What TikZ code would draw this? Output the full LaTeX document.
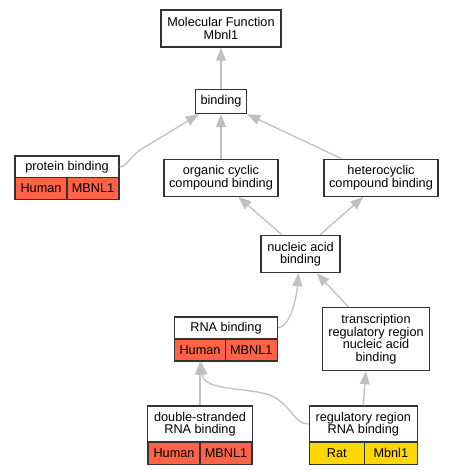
\documentclass[tikz,border=0pt]{standalone}
\usepackage{fontspec}
\setmainfont{Liberation Sans}
\usetikzlibrary{arrows.meta}
\definecolor{tom}{HTML}{FF6347}
\definecolor{gld}{HTML}{FFD700}
\definecolor{edgegray}{HTML}{C0C0C0}
\definecolor{bord}{HTML}{333333}
\begin{document}
\begin{tikzpicture}[x=1pt,y=-1pt,
  box/.style={draw=bord, line width=1.4pt, fill=white, inner sep=0pt, align=center, font=\fontsize{12.7}{12.5}\selectfont},
  hum/.style={box, fill=tom},
  rat/.style={box, fill=gld},
  edge/.style={draw=edgegray, line width=1.3pt, -{Triangle[length=13pt,width=10pt]}}]
\useasboundingbox[fill=white] (0,0) rectangle (455,475);
% nodes
\node[box, minimum width=120pt, minimum height=37pt] (mf) at (221,28.5) {Molecular Function\\Mbnl1};
\node[box, minimum width=51pt, minimum height=24pt] (bind) at (221,101.5) {binding};
\node[box, minimum width=104pt, minimum height=22pt] (pb) at (67,167) {protein binding};
\node[hum, minimum width=52pt, minimum height=22pt] (pbh) at (41,188.5) {Human};
\node[hum, minimum width=52pt, minimum height=22pt] (pbm) at (93,188.5) {MBNL1};
\node[box, minimum width=114pt, minimum height=37pt] (occ) at (221,177.7) {organic cyclic\\compound binding};
\node[box, minimum width=114pt, minimum height=37pt] (hcc) at (381,177.7) {heterocyclic\\compound binding};
\node[box, minimum width=79pt, minimum height=37pt] (nab) at (300.5,254) {nucleic acid\\binding};
\node[box, minimum width=103pt, minimum height=22pt] (rna) at (226,328) {RNA binding};
\node[hum, minimum width=51pt, minimum height=22pt] (rnah) at (200,350) {Human};
\node[hum, minimum width=52pt, minimum height=22pt] (rnam) at (251.3,350) {MBNL1};
\node[box, minimum width=107pt, minimum height=63pt] (trr) at (376,339) {transcription\\regulatory region\\nucleic acid\\binding};
\node[box, minimum width=105pt, minimum height=36pt] (ds) at (200,424) {double-stranded\\RNA binding};
\node[hum, minimum width=52pt, minimum height=22pt] (dsh) at (174,453.3) {Human};
\node[hum, minimum width=52pt, minimum height=22pt] (dsm) at (226,453.3) {MBNL1};
\node[box, minimum width=108pt, minimum height=36pt] (rr) at (363.3,424) {regulatory region\\RNA binding};
\node[rat, minimum width=55pt, minimum height=22pt] (rrr) at (336.8,453.3) {Rat};
\node[rat, minimum width=53pt, minimum height=22pt] (rrm) at (390.8,453.3) {Mbnl1};
% edges
\draw[edge] (bind) -- (mf);
\draw[edge] (occ) -- (bind);
\draw[edge] (pb.east) .. controls (128,166) and (130,155) .. (145,147) -- ([xshift=4pt]bind.south west);
\draw[edge] ([xshift=18pt]hcc.north west) -- (bind.south east);
\draw[edge] ([xshift=-18.5pt]nab.north) -- ([xshift=17.3pt]occ.south);
\draw[edge] ([xshift=19.5pt]nab.north) -- ([xshift=-17.7pt]hcc.south);
\draw[edge] (rna.east) .. controls (288,326) and (294,310) .. (297,290) -- ([xshift=-2pt]nab.south);
\draw[edge] ([xshift=-27.7pt]trr.north) -- ([xshift=16.2pt]nab.south);
\draw[edge] (ds.north) -- (rnah.south);
\draw[edge] (rr.west) .. controls (294,424) and (292,406) .. (272,396) .. controls (252,387) and (204,392) .. ([xshift=1pt]rnah.south);
\draw[edge] (rr.north) -- ([xshift=-10.3pt]trr.south);
\end{tikzpicture}
\end{document}
